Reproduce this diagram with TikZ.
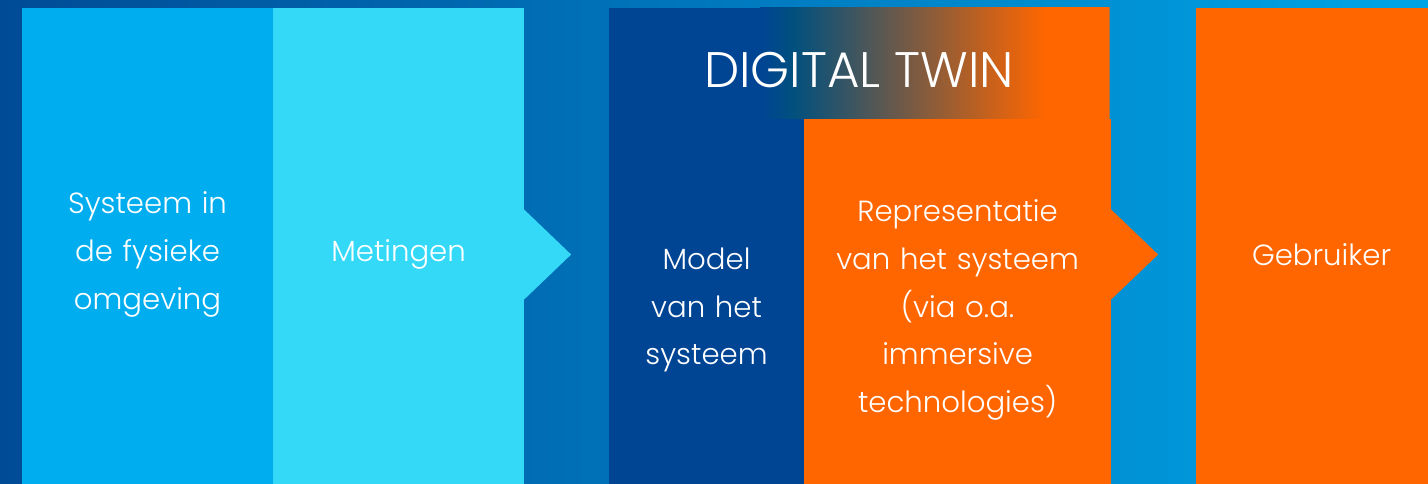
\documentclass[tikz,border=0pt]{standalone}
\usepackage{fontspec}
\setmainfont{Poppins}[UprightFont=* Light]
\usetikzlibrary{positioning,calc}

\definecolor{achterlinks}{HTML}{004B96}
\definecolor{achterrechts}{HTML}{00A5E6}
\definecolor{fysiekblauw}{HTML}{00AEEF}
\definecolor{meetcyaan}{HTML}{35D9F8}
\definecolor{modelblauw}{HTML}{004494}
\definecolor{twinteal}{HTML}{00507F}
\definecolor{oranje}{HTML}{FF6600}

\tikzset{
  kolom/.style={rectangle, inner sep=0pt, anchor=north west, text=white,
    align=center, font=\fontsize{16.6}{27.2}\selectfont},
  kleur/.style={fill=#1, draw=#1, line width=0.6pt},
  titel/.style={text=white, inner sep=0pt, font=\fontsize{28.4}{30}\selectfont}
}

\begin{document}
\begin{tikzpicture}
  \useasboundingbox (0,0) rectangle (28.56,-9.68);
  \clip (0,0) rectangle (28.56,-9.68);
  % Achtergrond
  \shade[left color=achterlinks, right color=achterrechts] (0,0) rectangle (28.56,-9.68);

  % Systeem in de fysieke omgeving
  \node[kolom, kleur=fysiekblauw, minimum width=5cm, minimum height=9.84cm, text width=4.6cm]
    (fysiek) at (0.44,-0.16) {Systeem in\\ de fysieke\\ omgeving};
  % Metingen
  \node[kolom, kleur=meetcyaan, minimum width=5cm, minimum height=9.84cm, text width=4.6cm]
    (metingen) at (fysiek.north east) {Metingen};
  \fill[meetcyaan] ([yshift=0.9cm]metingen.east) -- ++(0.94,-0.9) -- ++(-0.94,-0.9) -- cycle;

  % Digital twin (kop loopt iets door onder de kolommen)
  \node[kolom, fill=modelblauw, minimum width=10cm, minimum height=2.3cm]
    (twin) at (12.18,-0.16) {};
  \begin{scope}
  \clip (twin.north west) rectangle (twin.south east);
  \shade[left color=modelblauw, right color=twinteal] (15.2,0) rectangle (15.84,-2.6);
  \shade[left color=twinteal, right color=oranje] (15.84,0) rectangle (20.9,-2.6);
  \fill[oranje] (20.9,0) rectangle (twin.south east);
  \end{scope}
  \node[titel] (twintitel) at (17.18,-1.4) {DIGITAL TWIN};

  % Model van het systeem
  \node[kolom, kleur=modelblauw, minimum width=3.88cm, minimum height=7.62cm, text width=3.6cm]
    (model) at (12.18,-2.38) {Model\\ van het\\ systeem};
  % Representatie
  \node[kolom, kleur=oranje, minimum width=6.12cm, minimum height=7.62cm, text width=5.8cm]
    (repr) at (model.north east) {Representatie\\ van het systeem\\ (via o.a.\\ immersive\\ technologies)};
  \fill[oranje] ($(repr.east |- metingen.east)+(0,0.9)$) -- ++(0.94,-0.9) -- ++(-0.94,-0.9) -- cycle;

  % Gebruiker
  \node[kolom, kleur=oranje, minimum width=5cm, minimum height=9.84cm, text width=4.6cm]
    (gebruiker) at (23.92,-0.16) {Gebruiker};
\end{tikzpicture}
\end{document}
